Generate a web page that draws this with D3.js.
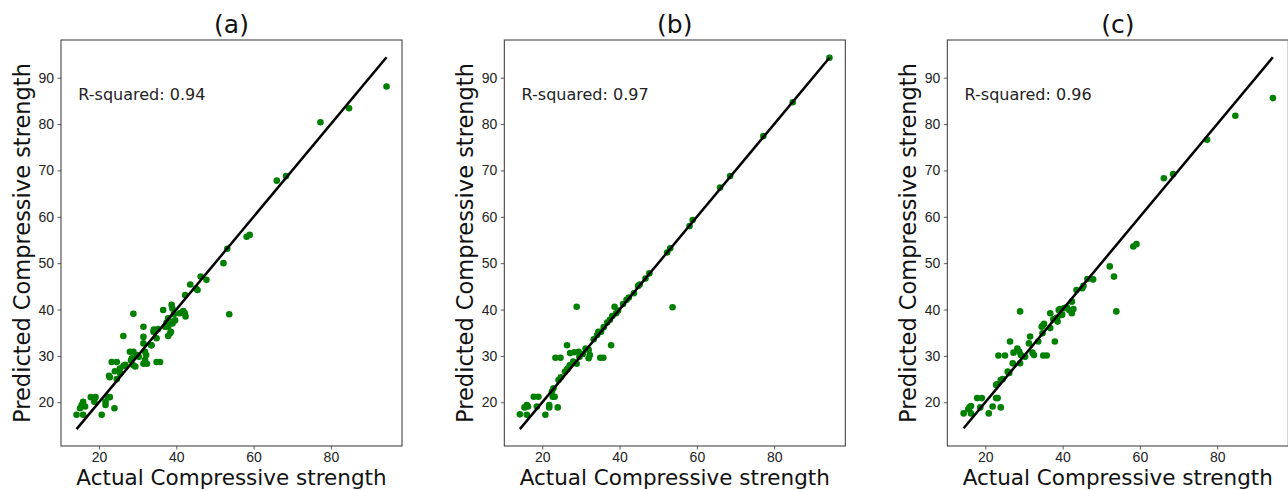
<!DOCTYPE html>
<html>
<head>
<meta charset="utf-8">
<script src="https://cdn.jsdelivr.net/npm/d3@7.9.0/dist/d3.min.js"></script>
<style>
  body { margin: 0; background: #fff; }
  svg { display: block; font-family: "DejaVu Sans", sans-serif; }
  .tick text { font-size: 14px; fill: #222; }
  .tick line { stroke: #333; stroke-width: 0.8; }
</style>
</head>
<body>
<svg id="chart" width="1288" height="490"></svg>
<script>
// [actual, predicted] pairs
const pointsA = [
  [14.2,17.3],[15.1,18.7],[15.5,19.4],[15.9,20.1],[16.4,19.1],[15.9,17.3],[17.9,21.1],[19.1,21.1],
  [18.8,20.1],[20.7,17.3],[21.7,20.1],[21.7,19.4],[22.3,21.1],[22.8,21.1],[24.0,18.7],[22.6,25.7],
  [22.8,25.4],[24.1,26.7],[24.6,25.0],[25.5,26.2],[23.3,28.7],[24.6,28.7],[25.4,27.3],[26.3,27.8],
  [26.3,34.3],[26.8,28.1],[28.0,30.9],[28.9,30.9],[28.9,39.1],[28.5,29.5],[28.3,29.0],[28.9,28.0],
  [29.8,30.2],[29.4,27.7],[30.3,29.8],[31.5,36.3],[31.5,34.1],[31.5,32.7],[31.9,30.9],[32.2,30.2],
  [31.9,29.1],[31.5,28.3],[32.4,28.3],[33.5,32.3],[34.1,35.2],[34.5,35.6],[34.9,33.8],[34.9,28.7],
  [35.8,28.7],[35.3,35.8],[36.6,39.9],[37.1,36.3],[37.5,37.2],[37.9,38.1],[38.4,34.9],[38.8,41.0],
  [39.0,40.2],[39.0,37.0],[39.3,37.4],[39.4,39.0],[40.9,39.2],[41.8,39.7],[42.2,39.2],[42.4,38.5],
  [39.7,37.7],[37.9,36.3],[38.6,35.2],[37.9,34.3],[33.6,32.3],[34.2,35.7],[42.3,43.1],[43.6,45.4],
  [45.1,44.5],[45.5,44.2],[46.3,47.1],[47.8,46.4],[52.2,50.0],[53.2,53.1],[53.7,39.0],[58.2,55.7],
  [59.0,56.1],[66.0,67.8],[68.4,68.8],[77.3,80.4],[84.7,83.4],[94.4,88.1]
];
const pointsB = [
  [14.2,17.4],[15.4,18.9],[16.0,19.4],[16.3,19.1],[16.0,17.3],[17.8,21.2],[19.0,21.2],[18.6,19.1],
  [20.8,17.3],[21.8,19.4],[21.8,18.9],[22.7,21.2],[23.2,21.2],[24.0,18.9],[22.9,23.0],[22.5,22.3],
  [24.2,24.8],[24.8,25.4],[25.9,26.6],[26.5,27.2],[23.4,29.6],[24.7,29.6],[26.4,32.3],[27.2,30.6],
  [28.3,30.8],[29.4,30.9],[28.9,40.6],[28.9,28.3],[27.1,28.0],[28.0,28.8],[29.6,29.8],[30.5,30.4],
  [31.2,31.6],[32.0,31.3],[32.3,30.2],[32.0,29.5],[35.0,29.6],[35.8,29.6],[37.8,32.3],[33.3,33.6],
  [34.2,34.5],[34.5,35.2],[35.2,35.2],[35.9,36.2],[36.8,37.2],[37.5,37.8],[38.1,38.6],[38.7,40.6],
  [39.1,39.2],[39.6,39.8],[40.9,41.2],[41.8,42.1],[42.4,42.6],[43.7,43.5],[44.8,45.1],[45.2,45.4],
  [46.7,46.7],[47.7,47.8],[52.3,52.3],[53.1,53.2],[53.7,40.5],[58.1,58.0],[58.9,59.3],[66.0,66.3],
  [68.6,68.8],[77.2,77.4],[84.8,84.7],[94.3,94.3]
];
const pointsC = [
  [14.4,17.6],[15.9,18.9],[16.3,19.2],[16.3,17.6],[15.6,18.5],[17.9,20.9],[19.1,20.9],[18.7,18.9],
  [20.9,17.6],[21.9,19.1],[22.8,20.9],[23.2,20.9],[24.0,18.9],[22.8,23.7],[23.0,23.9],[24.0,24.8],
  [24.5,25.0],[25.8,26.6],[26.2,26.3],[23.4,30.1],[25.1,30.1],[26.4,33.1],[27.3,30.7],[28.3,31.6],
  [28.8,30.9],[29.2,30.2],[27.1,28.4],[29.0,28.4],[29.0,39.6],[31.6,34.2],[31.3,32.7],[32.2,30.7],
  [32.6,30.2],[30.3,29.8],[35.0,30.1],[35.9,30.1],[33.7,33.1],[34.8,34.9],[34.8,36.5],[35.2,36.9],
  [34.6,36.3],[36.8,36.0],[36.8,39.2],[37.6,37.9],[38.0,33.1],[38.5,38.2],[38.7,37.4],[39.0,39.9],
  [39.3,40.1],[39.5,38.8],[39.9,38.9],[40.4,40.3],[41.1,40.5],[41.7,39.9],[42.4,41.7],[42.8,40.1],
  [42.4,39.2],[43.6,44.2],[45.1,44.6],[45.4,45.1],[46.4,46.6],[47.9,46.5],[52.2,49.3],[53.3,47.1],
  [53.9,39.6],[58.3,53.6],[59.1,54.1],[66.2,68.3],[68.6,69.2],[77.4,76.6],[84.7,81.8],[94.4,85.6]
];

const titles = ["(a)", "(b)", "(c)"];
const rSquared = ["0.94", "0.97", "0.96"];
const xTicks = [20, 40, 60, 80];
const yTicks = [20, 30, 40, 50, 60, 70, 80, 90];
const xDomain = [10.17, 98.4];
const yDomain = [10.57, 98.13];

const panels = [pointsA, pointsB, pointsC];
const panelLeft = [61, 504.3, 947.3];
const pw = 341, ph = 406, panelTop = 40;

const svg = d3.select("#chart");

panels.forEach((pts, i) => {
  const g = svg.append("g").attr("transform", `translate(${panelLeft[i]},${panelTop})`);
  const x = d3.scaleLinear().domain(xDomain).range([0, pw]);
  const y = d3.scaleLinear().domain(yDomain).range([ph, 0]);

  g.append("g")
    .attr("class", "axis")
    .attr("transform", `translate(0,${ph})`)
    .call(d3.axisBottom(x).tickValues(xTicks).tickSize(3.5).tickPadding(2.5))
    .call(s => s.select(".domain").remove());

  g.append("g")
    .attr("class", "axis")
    .call(d3.axisLeft(y).tickValues(yTicks).tickSize(3.5).tickPadding(3.5))
    .call(s => s.select(".domain").remove());

  // points
  g.append("g").selectAll("circle")
    .data(pts)
    .join("circle")
    .attr("cx", d => x(d[0]))
    .attr("cy", d => y(d[1]))
    .attr("r", 3.3)
    .attr("fill", "#008000");

  // identity line over the actual range
  const lo = d3.min(pts, d => d[0]), hi = d3.max(pts, d => d[0]);
  g.append("line")
    .attr("x1", x(lo)).attr("y1", y(lo))
    .attr("x2", x(hi)).attr("y2", y(hi))
    .attr("stroke", "#000")
    .attr("stroke-width", 2.5);

  // frame
  g.append("rect")
    .attr("width", pw).attr("height", ph)
    .attr("fill", "none")
    .attr("stroke", "#333")
    .attr("stroke-width", 1);

  g.append("text")
    .attr("x", x(14.65)).attr("y", y(85.15))
    .attr("font-size", 16)
    .attr("fill", "#222")
    .text(`R-squared: ${rSquared[i]}`);

  g.append("text")
    .attr("x", pw / 2).attr("y", -7)
    .attr("text-anchor", "middle")
    .attr("font-size", 25)
    .attr("fill", "#111")
    .text(titles[i]);

  g.append("text")
    .attr("x", pw / 2).attr("y", 485 - panelTop)
    .attr("text-anchor", "middle")
    .attr("font-size", 21.5)
    .attr("fill", "#111")
    .text("Actual Compressive strength");

  g.append("text")
    .attr("transform", `translate(${-31},${ph / 2}) rotate(-90)`)
    .attr("text-anchor", "middle")
    .attr("font-size", 22.5)
    .attr("fill", "#111")
    .text("Predicted Compressive strength");
});
</script>
</body>
</html>
